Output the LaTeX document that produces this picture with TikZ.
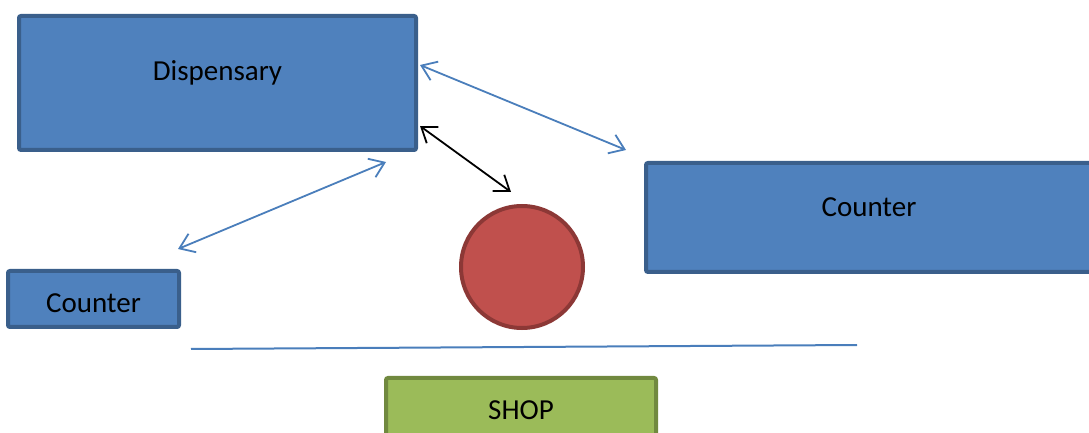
\documentclass[tikz,border=0pt]{standalone}
\usepackage{fontspec}
\setmainfont{Carlito}
\usetikzlibrary{arrows.meta, positioning}
\definecolor{boxblue}{HTML}{4F81BD}
\definecolor{boxblueedge}{HTML}{3A5F8B}
\definecolor{tillred}{HTML}{C0504D}
\definecolor{tillrededge}{HTML}{8C3836}
\definecolor{shopgreen}{HTML}{9BBB59}
\definecolor{shopgreenedge}{HTML}{71893F}
\definecolor{flowblue}{HTML}{4A7EBB}

\begin{document}
\begin{tikzpicture}[
    x=0.5pt, y=-0.5pt,
    area/.style={draw=boxblueedge, fill=boxblue, line width=2pt, rounded corners=1pt, inner sep=0pt},
    lbl/.style={font=\fontsize{14.5}{17}\selectfont, text=black},
    link/.style={{Straight Barb[length=7pt,width=10pt]}-{Straight Barb[length=7pt,width=10pt]}, line width=0.9pt},
]
\clip (0,0) rectangle (1089,433);

% Rooms and counters
\node[area, minimum width=198.5pt, minimum height=67pt,
      label={[lbl, yshift=5pt]center:Dispensary}] (disp) at (217.5,83) {};
\node[area, minimum width=223pt, minimum height=54.5pt,
      label={[lbl, yshift=5pt]center:Counter}] (counterR) at (869,217.5) {};
\node[area, minimum width=85.5pt, minimum height=28pt,
      label={[lbl, yshift=-2pt]center:Counter}] (counterL) at (93.5,299) {};

% Till in the middle
\node[circle, draw=tillrededge, fill=tillred, line width=2pt, minimum size=61pt, inner sep=0pt] (till) at (522,267) {};

% Shop front
\node[draw=shopgreenedge, fill=shopgreen, line width=2pt, rounded corners=1pt, inner sep=0pt,
      minimum width=135pt, minimum height=42pt,
      label={[lbl, yshift=5pt]center:SHOP}] (shop) at (521,420) {};

% Divider in front of the shop
\coordinate (divL) at (191,349);
\coordinate (divR) at (857,345);
\draw[flowblue, line width=1pt] (divL) -- (divR);

% Link ends
\coordinate (dispUp) at (420,65);
\coordinate (dispLow) at (420,126);
\coordinate (dispBot) at (386,162);
\coordinate (toCounterR) at (626,150);
\coordinate (toTill) at (511,192);
\coordinate (toCounterL) at (178,249);

% Links
\draw[link, flowblue] (dispUp) -- (toCounterR);
\draw[link, black] (dispLow) -- (toTill);
\draw[link, flowblue] (dispBot) -- (toCounterL);
\end{tikzpicture}
\end{document}
